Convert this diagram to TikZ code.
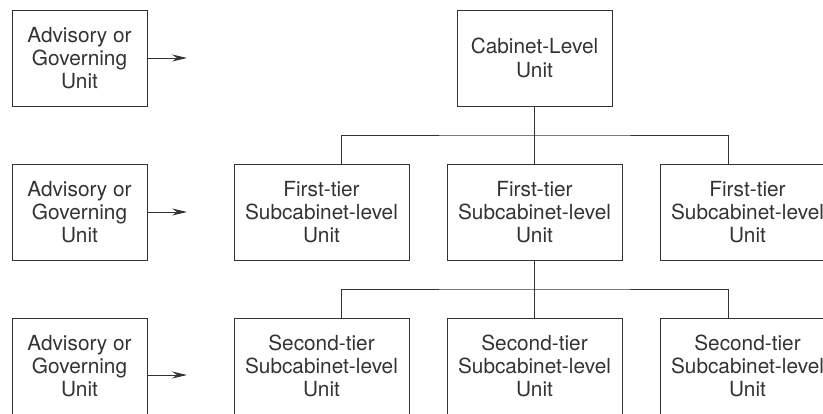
\documentclass[tikz,border=0pt]{standalone}
\usepackage{fontspec}
\setmainfont{TeX Gyre Heros}
\usetikzlibrary{arrows.meta,positioning}
\tikzset{
    unit/.style={rectangle,draw=black!80,line width=0.9pt,text=black!80,align=center,
        inner sep=0pt,outer sep=0pt,minimum height=96pt,
        font=\fontsize{20.8}{23.2}\selectfont},
    advisory/.style={unit,minimum width=135pt},
    cabinet/.style={unit,minimum width=155pt},
    tier/.style={unit,minimum width=175pt},
    link/.style={draw=black!80,line width=0.9pt},
    feed/.style={->,>={Stealth[length=15pt,width=7pt,inset=5pt]},draw=black!80,line width=0.9pt}
}

\begin{document}
\begin{tikzpicture}

                \useasboundingbox (0pt,0pt) rectangle (823pt,-413pt);
                \clip (0pt,0pt) rectangle (823pt,-413pt);

                % advisory column
                \node[advisory] (adv 1) at (79.5pt,-58pt)           {Advisory or\\Governing\\Unit};
                \node[advisory] (adv 2) [below=58pt of adv 1]       {Advisory or\\Governing\\Unit};
                \node[advisory] (adv 3) [below=58pt of adv 2]       {Advisory or\\Governing\\Unit};

                \coordinate (tip 1) at ([xshift=40pt]adv 1.east);
                \coordinate (tip 2) at ([xshift=40pt]adv 2.east);
                \coordinate (src 3) at ([yshift=-9pt]adv 3.east);
                \coordinate (tip 3) at ([xshift=40pt]src 3);
                \draw[feed] (adv 1.east) -- (tip 1);
                \draw[feed] (adv 2.east) -- (tip 2);
                \draw[feed] (src 3) -- (tip 3);

                % cabinet and first tier
                \node[cabinet] (cabinet) at (534.5pt,-58pt)         {Cabinet-Level\\Unit};
                \node[tier] (first 2) [below=58pt of cabinet]       {First-tier\\Subcabinet-level\\Unit};
                \node[tier] (first 1) [left=38pt of first 2]        {First-tier\\Subcabinet-level\\Unit};
                \node[tier] (first 3) [right=38pt of first 2]       {First-tier\\Subcabinet-level\\Unit};

                % second tier
                \node[tier] (second 2) [below=58pt of first 2]      {Second-tier\\Subcabinet-level\\Unit};
                \node[tier] (second 1) [left=38pt of second 2]      {Second-tier\\Subcabinet-level\\Unit};
                \node[tier] (second 3) [right=38pt of second 2]     {Second-tier\\Subcabinet-level\\Unit};

                % connectors
                \coordinate (bus 1)  at ([yshift=-29pt]cabinet.south);
                \coordinate (drop 1) at ([xshift=19.5pt]first 1.north);
                \coordinate (drop 3) at ([xshift=-19.5pt]first 3.north);
                \draw[link] (cabinet.south) -- (first 2.north);
                \draw[link] (drop 1) |- (bus 1) -| (drop 3);

                \coordinate (bus 2)  at ([yshift=-29pt]first 2.south);
                \coordinate (drop 4) at ([xshift=19.5pt]second 1.north);
                \coordinate (drop 6) at ([xshift=-19.5pt]second 3.north);
                \draw[link] (first 2.south) -- (second 2.north);
                \draw[link] (drop 4) |- (bus 2) -| (drop 6);

            \end{tikzpicture}
\end{document}
